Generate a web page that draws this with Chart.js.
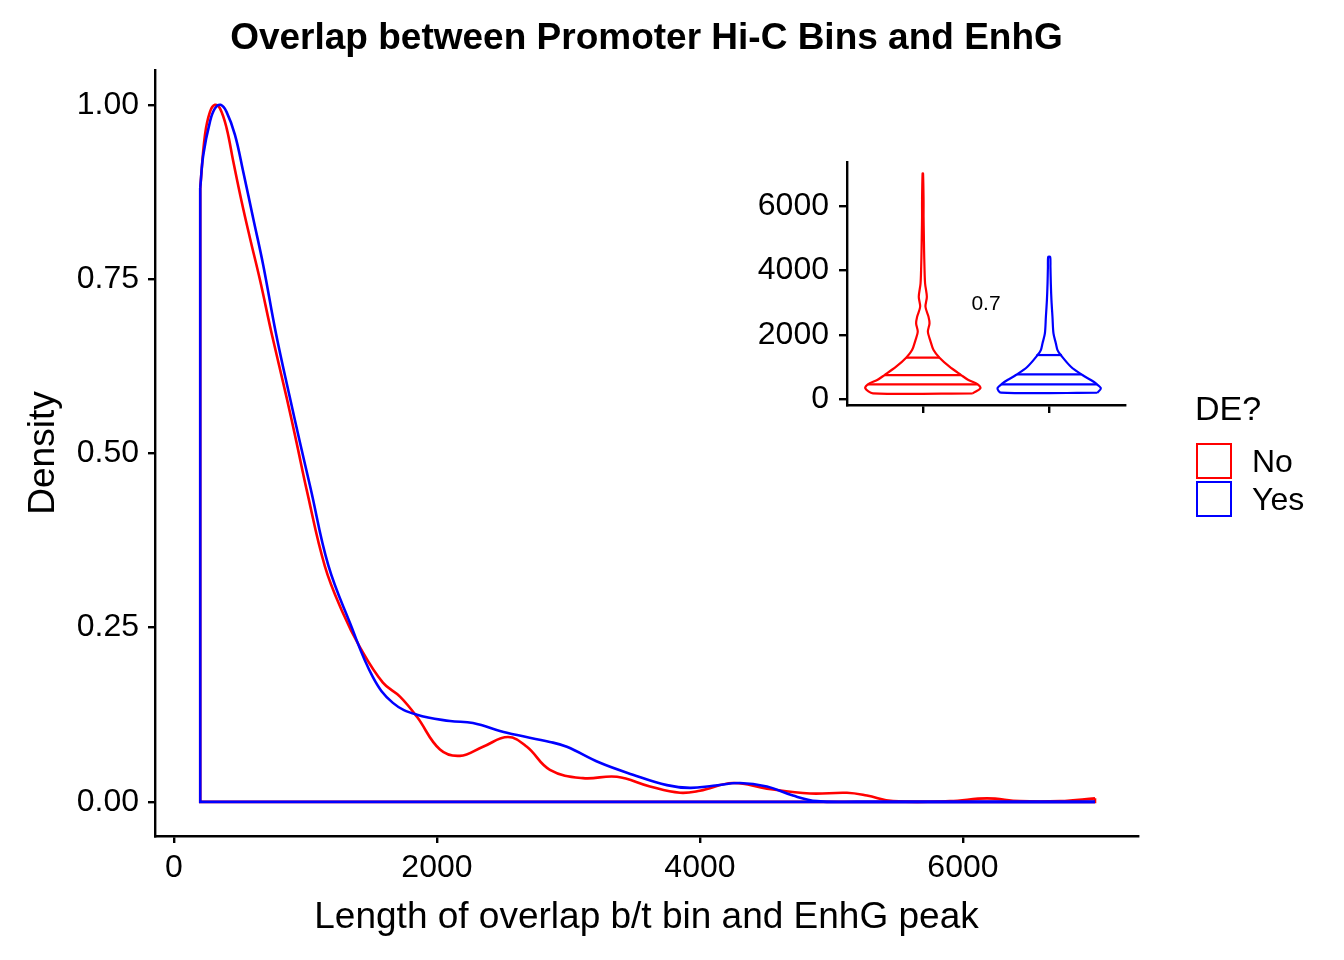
<!DOCTYPE html>
<html>
<head>
<meta charset="utf-8">
<script src="https://cdn.jsdelivr.net/npm/chart.js@4.4.0/dist/chart.umd.min.js"></script>
<style>
  body { margin: 0; background: #fff; }
  #wrap { position: relative; width: 1344px; height: 960px; font-family: 'Liberation Sans', Arial, Helvetica, sans-serif; color: #000; }
  #wrap canvas { position: absolute; left: 0; top: 0; }
  .txt { position: absolute; white-space: nowrap; }
  .box { position: absolute; width: 36px; height: 36px; box-sizing: border-box; border: 2px solid; background: #fff; }
</style>
</head>
<body>
<div id="wrap">
  <canvas id="main" width="1344" height="960"></canvas>
  <canvas id="inset" width="1344" height="960"></canvas>
  <div class="txt" id="title" style="left:155px; width:983px; top:15px; text-align:center; font-weight:bold; font-size:37px; line-height:44px;">Overlap between Promoter Hi-C Bins and EnhG</div>
  <div class="txt" style="left:1195px; top:388px; font-size:34px; line-height:40px;">DE?</div>
  <div class="box" style="left:1196px; top:443px; border-color:#FF0000;"></div>
  <div class="box" style="left:1196px; top:481px; border-color:#0000FF;"></div>
  <div class="txt" style="left:1252px; top:442px; font-size:32px; line-height:38px;">No</div>
  <div class="txt" style="left:1252px; top:480px; font-size:32px; line-height:38px;">Yes</div>
</div>
<script>
// density curves (scaled density)
const noX = [200, 236, 274, 312, 350, 400, 451, 515, 578, 654, 743, 857, 933, 1009, 1148, 1285, 1414, 1589, 1719, 1848,
  2023, 2175, 2350, 2540, 2684, 2859, 3110, 3369, 3620, 3848, 4000, 4251, 4509, 4837, 5118, 5270, 5468, 5901, 6183, 6433, 6738, 7004];
const noDensity = [0.881, 0.957, 0.990, 1.000, 0.995, 0.967, 0.919, 0.861, 0.809, 0.749, 0.672, 0.580, 0.515, 0.448, 0.338, 0.271, 0.222, 0.171, 0.151, 0.122,
  0.075, 0.066, 0.079, 0.093, 0.079, 0.046, 0.034, 0.036, 0.022, 0.013, 0.016, 0.027, 0.019, 0.012, 0.013, 0.009, 0.001, 0.001, 0.005, 0.001, 0.001, 0.005];

const yesX = [200, 223, 274, 312, 355, 400, 464, 527, 603, 679, 776, 877, 958, 1039, 1173, 1338, 1513, 1665, 1848, 2099,
  2274, 2532, 2859, 2988, 3240, 3490, 3749, 3924, 4100, 4304, 4509, 4707, 4890, 5200, 6000, 7004];
const yesDensity = [0.881, 0.928, 0.976, 0.995, 1.000, 0.990, 0.957, 0.904, 0.837, 0.770, 0.672, 0.584, 0.516, 0.450, 0.340, 0.257, 0.179, 0.142, 0.125, 0.116,
  0.113, 0.099, 0.086, 0.079, 0.056, 0.039, 0.024, 0.020, 0.023, 0.027, 0.022, 0.009, 0.001, 0, 0, 0];

const xTicks = [0, 2000, 4000, 6000];
const yTicks = [0, 0.25, 0.5, 0.75, 1];

// inset violins: length value and half width (in category units)
const vioNoY = [186, 342, 466, 600, 755, 1014, 1293, 1531, 1842, 2101, 2360, 2567, 2877, 3188, 3602, 4119, 4636, 5155, 5671, 6190, 7020];
const vioNoHalf = [0.395, 0.456, 0.435, 0.361, 0.303, 0.211, 0.132, 0.085, 0.058, 0.040, 0.053, 0.045, 0.021, 0.032, 0.018, 0.013, 0.010, 0.008, 0.006, 0.006, 0.002];
const vioYesY = [205, 342, 497, 600, 755, 1014, 1376, 1531, 1738, 2049, 2567, 3085, 3602, 4119, 4429];
const vioYesHalf = [0.382, 0.409, 0.369, 0.330, 0.263, 0.172, 0.092, 0.066, 0.053, 0.034, 0.026, 0.018, 0.013, 0.010, 0.008];
const quantNoY = [466, 755, 1293];
const quantNoHalf = [0.435, 0.303, 0.132];
const quantYesY = [466, 776, 1376];
const quantYesHalf = [0.377, 0.255, 0.100];
const insetYTicks = [0, 2000, 4000, 6000];
const pValueText = '0.7';

const RED = '#FF0000', BLUE = '#0000FF';
const FAMILY = "'Liberation Sans', Arial, Helvetica, sans-serif";
Chart.defaults.font.family = FAMILY;
Chart.defaults.color = '#000';

// lower order is drawn on top, so "Yes" (blue) sits over "No" (red)
function curve(xs, ys, color, order) {
  return { data: xs.map((x, i) => ({ x, y: ys[i] })), borderColor: color, showLine: true, order,
    tension: 0.4, pointRadius: 0, borderWidth: 2.6, fill: false };
}
function outline(xs, ys, color, order) {
  const n = xs.length - 1;
  return { data: [{ x: xs[0], y: ys[0] }, { x: xs[0], y: 0 }, { x: xs[n], y: 0 }, { x: xs[n], y: ys[n] }],
    borderColor: color, showLine: true, order, tension: 0, pointRadius: 0, borderWidth: 2.6, fill: false };
}

function axisStyle(tickLen) {
  return {
    border: { display: true, color: '#000', width: 2.4 },
    grid: { drawOnChartArea: false, drawTicks: true, tickLength: tickLen, color: '#000', lineWidth: 2.4 }
  };
}

new Chart(document.getElementById('main'), {
  type: 'scatter',
  data: { datasets: [
    curve(noX, noDensity, RED, 3), outline(noX, noDensity, RED, 2),
    curve(yesX, yesDensity, BLUE, 1), outline(yesX, yesDensity, BLUE, 0)
  ] },
  options: {
    responsive: false, animation: false,
    layout: { padding: { left: 0, top: 70, right: 206, bottom: 0 } },
    plugins: { legend: { display: false }, tooltip: { enabled: false } },
    scales: {
      x: Object.assign(axisStyle(7), {
        type: 'linear', min: -144, max: 7331,
        afterBuildTicks: s => { s.ticks = xTicks.map(v => ({ value: v })); },
        afterFit: s => { s.height = 124; },
        ticks: { color: '#000', font: { size: 32 }, padding: 6, maxRotation: 0, callback: v => String(v) },
        title: { display: true, text: 'Length of overlap b/t bin and EnhG peak', color: '#000', font: { size: 37 }, padding: { top: 0, bottom: 20 } }
      }),
      y: Object.assign(axisStyle(7), {
        type: 'linear', min: -0.049, max: 1.05,
        afterBuildTicks: s => { s.ticks = yTicks.map(v => ({ value: v })); },
        afterFit: s => { s.width = 155; },
        ticks: { color: '#000', font: { size: 32 }, padding: 9, callback: v => v.toFixed(2) },
        title: { display: true, text: 'Density', color: '#000', font: { size: 37 }, padding: { top: 22, bottom: 0 } }
      })
    }
  }
});

function violin(center, ys, half, color) {
  const right = ys.map((y, i) => ({ x: center + half[i], y }));
  const left = ys.map((y, i) => ({ x: center - half[i], y })).reverse();
  return { data: right.concat(left, [right[0]]), borderColor: color, showLine: true, tension: 0.3,
    pointRadius: 0, borderWidth: 2.2, fill: false };
}
function quantLines(center, ys, half, color) {
  return ys.map((y, i) => ({ data: [{ x: center - half[i], y }, { x: center + half[i], y }],
    borderColor: color, showLine: true, pointRadius: 0, borderWidth: 2.2, fill: false }));
}

const pValuePlugin = {
  id: 'pvalue',
  afterDatasetsDraw(chart) {
    const { ctx, scales } = chart;
    ctx.save();
    ctx.font = '21px ' + FAMILY;
    ctx.fillStyle = '#000';
    ctx.textAlign = 'center';
    ctx.textBaseline = 'middle';
    ctx.fillText(pValueText, scales.x.getPixelForValue(1.5), scales.y.getPixelForValue(2950));
    ctx.restore();
  }
};

new Chart(document.getElementById('inset'), {
  type: 'scatter',
  data: { datasets: [
    violin(1, vioNoY, vioNoHalf, RED), ...quantLines(1, quantNoY, quantNoHalf, RED),
    violin(2, vioYesY, vioYesHalf, BLUE), ...quantLines(2, quantYesY, quantYesHalf, BLUE)
  ] },
  plugins: [pValuePlugin],
  options: {
    responsive: false, animation: false,
    layout: { padding: { left: 737, top: 162, right: 219, bottom: 535 } },
    plugins: { legend: { display: false }, tooltip: { enabled: false } },
    scales: {
      x: Object.assign(axisStyle(8), {
        type: 'linear', min: 0.4, max: 2.6,
        afterBuildTicks: s => { s.ticks = [1, 2].map(v => ({ value: v })); },
        afterFit: s => { s.height = 20; },
        ticks: { callback: () => '' }
      }),
      y: Object.assign(axisStyle(8), {
        type: 'linear', min: -177, max: 7379,
        afterBuildTicks: s => { s.ticks = insetYTicks.map(v => ({ value: v })); },
        afterFit: s => { s.width = 110; },
        ticks: { color: '#000', font: { size: 32 }, padding: 10, callback: v => String(v) }
      })
    }
  }
});
</script>
</body>
</html>
